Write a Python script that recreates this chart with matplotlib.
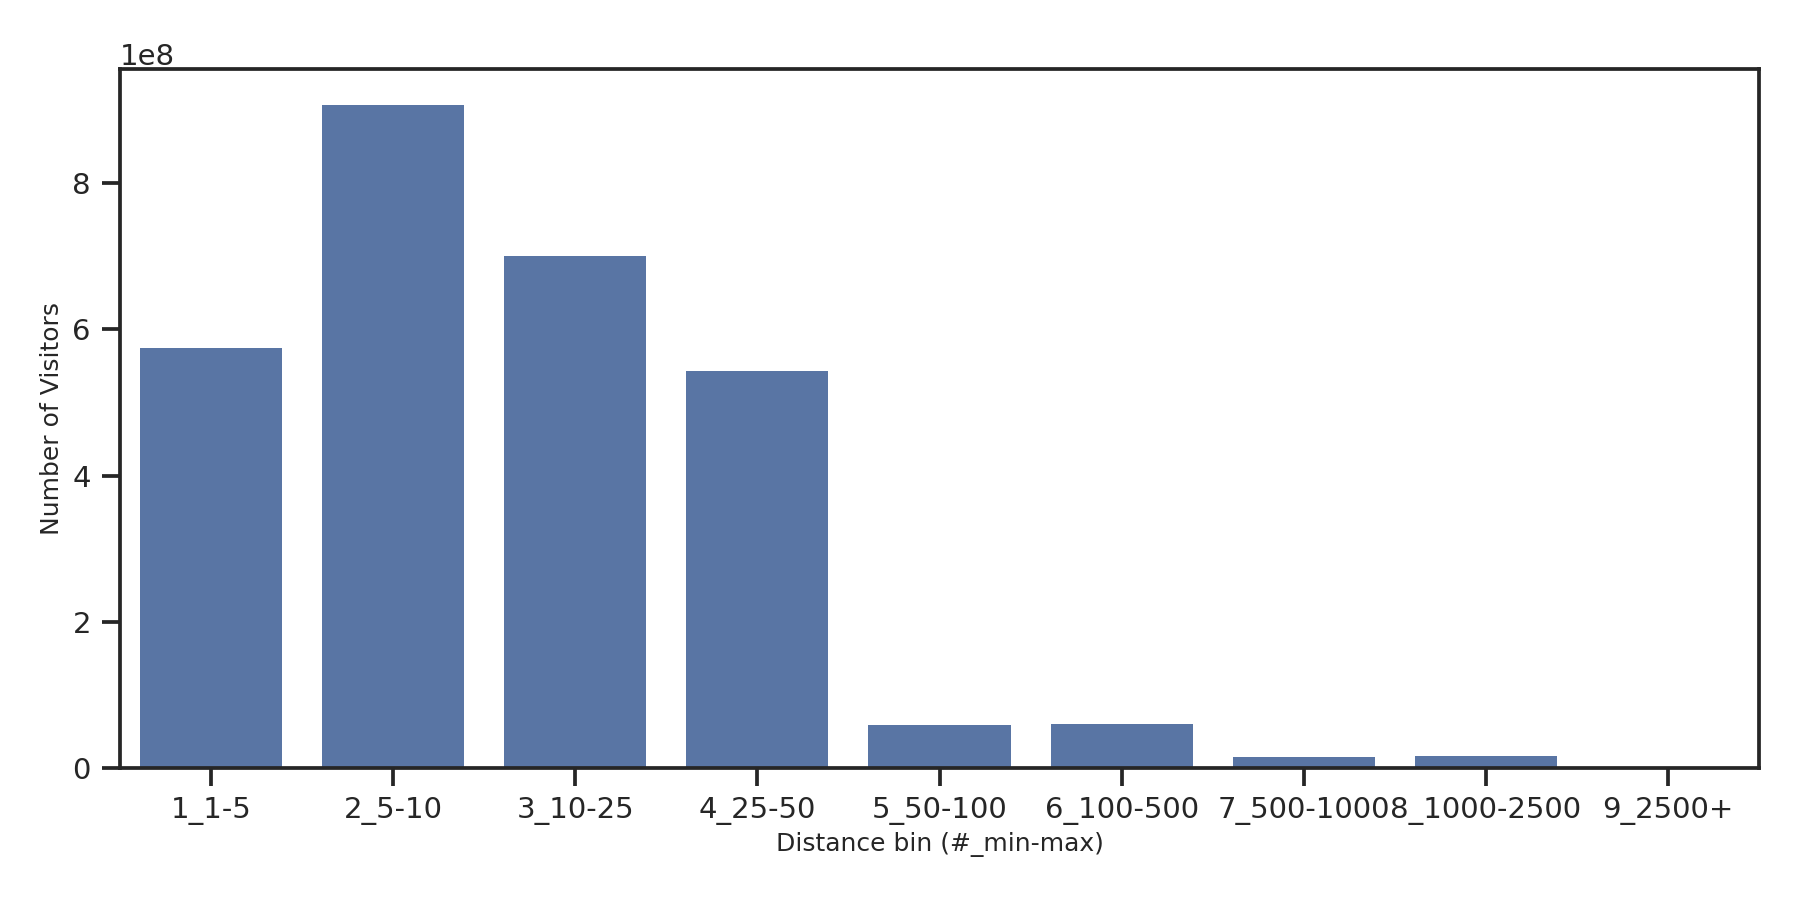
import matplotlib
matplotlib.use("Agg")
import matplotlib.pyplot as plt

categories = ["1_1-5", "2_5-10", "3_10-25", "4_25-50", "5_50-100",
              "6_100-500", "7_500-1000", "8_1000-2500", "9_2500+"]
visitors = [5.745e8, 9.07e8, 7.00e8, 5.43e8, 0.59e8,
            0.605e8, 0.153e8, 0.167e8, 0.002e8]

plt.rcParams['font.family'] = ['DejaVu Sans']
fig = plt.figure(figsize=(18, 9), dpi=100)
ax = fig.add_axes([0.0667, 0.1465, 0.9105, 0.7768])

x = list(range(len(categories)))
ax.bar(x, visitors, width=0.78, color="#5975a4")
ax.set_xticks(x)
ax.set_xticklabels(categories)
ax.set_xlim(-0.5, len(categories) - 0.5)
ax.set_ylim(0, 9.56e8)
ax.set_yticks([0, 2e8, 4e8, 6e8, 8e8])

for s in ax.spines.values():
    s.set_linewidth(2.7)
    s.set_color("#262626")
ax.tick_params(axis="both", which="major", length=13, width=2.7,
               color="#262626", labelsize=21, labelcolor="#262626", pad=8)
ax.yaxis.get_offset_text().set_fontsize(21)
ax.yaxis.get_offset_text().set_color("#262626")

ax.set_xlabel("Distance bin (#_min-max)", fontsize=18, color="#262626", labelpad=5)
ax.set_ylabel("Number of Visitors", fontsize=18, color="#262626", labelpad=6)

fig.savefig("out.png", dpi=100)
